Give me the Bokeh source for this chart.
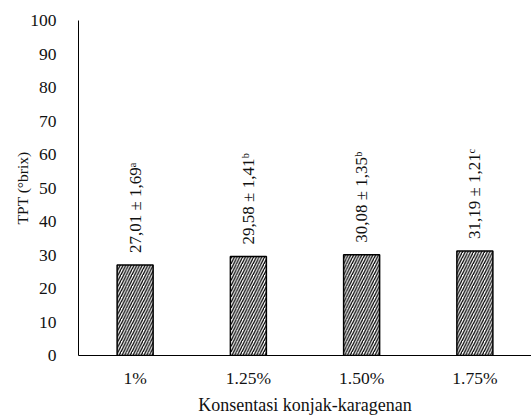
from bokeh.plotting import figure
from bokeh.models import ColumnDataSource, FixedTicker, Range1d
from bokeh.core.properties import value
from bokeh.embed import file_html
from bokeh.resources import INLINE

categories = ["1%", "1.25%", "1.50%", "1.75%"]
tpt = [27.01, 29.58, 30.08, 31.19]
labels = ["27,01 ± 1,69ᵃ", "29,58 ± 1,41ᵇ", "30,08 ± 1,35ᵇ", "31,19 ± 1,21ᶜ"]
y_ticks = [0, 10, 20, 30, 40, 50, 60, 70, 80, 90, 100]

FONT = "Liberation Serif"

src = ColumnDataSource(dict(cat=categories, v=tpt, lab=labels))

p = figure(x_range=categories, y_range=Range1d(0, 100), width=531, height=417,
           output_backend="svg", toolbar_location=None,
           min_border_left=78, min_border_right=0, min_border_top=20, min_border_bottom=59)
p.outline_line_color = None
p.xgrid.grid_line_color = None
p.ygrid.grid_line_color = None
p.x_range.range_padding = 0

p.vbar(x="cat", top="v", width=0.318, source=src, fill_color="white",
       line_color="black", line_width=1.5, hatch_pattern="right_diagonal_line",
       hatch_color="black", hatch_scale=5.5, hatch_weight=1.3)

p.text(x="cat", y="v", text="lab", source=src, angle=1.5708, text_align="left",
       text_baseline="middle", x_offset=0, y_offset=-12,
       text_font=value(FONT), text_font_size="17px", text_color="#111111")

p.yaxis.ticker = FixedTicker(ticks=y_ticks)
p.yaxis.axis_label = "TPT (°brix)"
p.xaxis.axis_label = "Konsentasi konjak-karagenan"
for ax in (p.xaxis, p.yaxis):
    ax.axis_line_color = "black"
    ax.axis_line_width = 1
    ax.major_tick_line_color = None
    ax.minor_tick_line_color = None
    ax.major_label_text_font = FONT
    ax.major_label_text_font_size = "17.5px"
    ax.major_label_text_color = "#111111"
    ax.axis_label_text_font = FONT
    ax.axis_label_text_font_style = "normal"
    ax.axis_label_text_color = "#111111"
p.xaxis.axis_label_text_font_size = "18px"
p.yaxis.axis_label_text_font_size = "15.5px"
p.yaxis.major_label_standoff = 16
p.xaxis.major_label_standoff = 6
p.xaxis.axis_label_standoff = 4
p.yaxis.axis_label_standoff = -4

open("out.html", "w").write(file_html(p, INLINE))
